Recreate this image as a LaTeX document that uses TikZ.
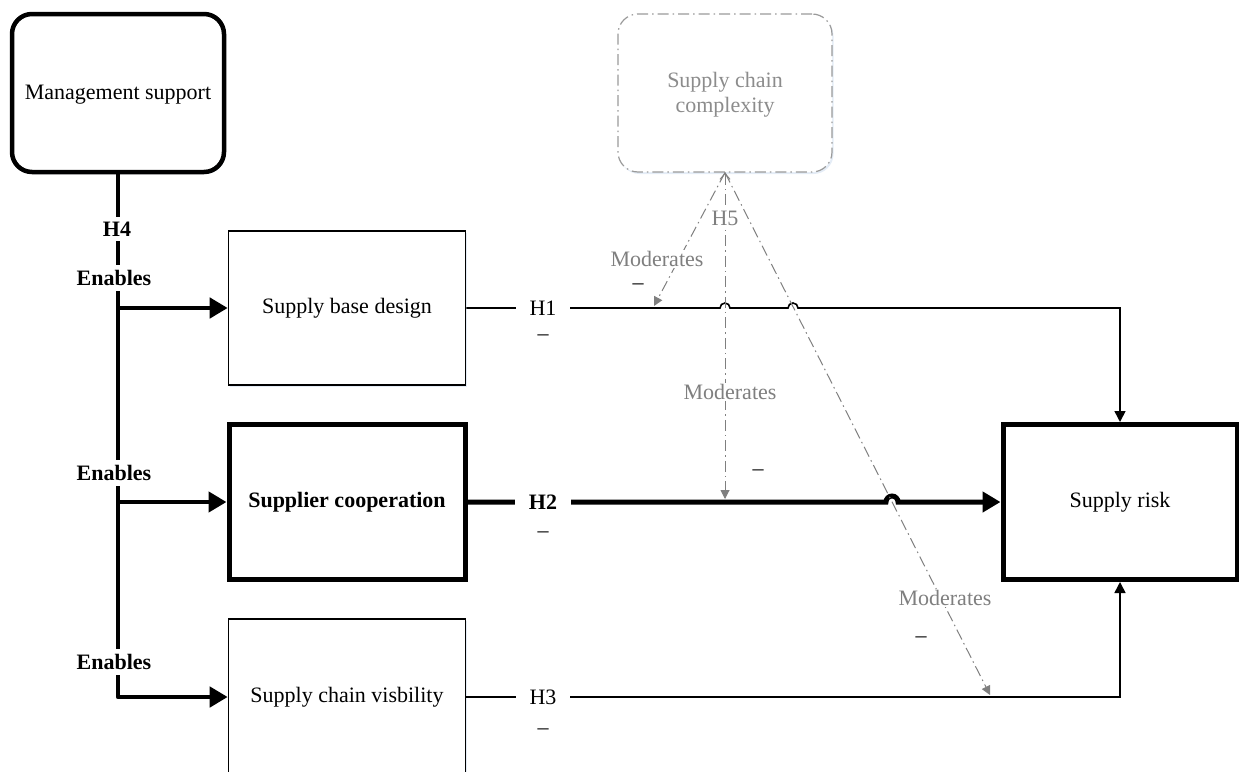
\documentclass[tikz,border=0pt]{standalone}
\usepackage{fontspec}
\setmainfont{Liberation Serif}
\usetikzlibrary{arrows.meta,shadows}
\definecolor{modgray}{HTML}{7F7F7F}
\definecolor{cxgray}{HTML}{8C8C8C}
\definecolor{cxline}{HTML}{9A9A9A}
\definecolor{shadowblue}{HTML}{E4ECF6}
\tikzset{
  txt/.style={font=\fontsize{22}{25}\selectfont},
  boxbase/.style={draw, txt, align=center, inner sep=0pt, fill=white,
    drop shadow={shadow xshift=1.5pt, shadow yshift=-2pt, fill=shadowblue, opacity=1}},
  thinbox/.style={boxbase, line width=1.6pt},
  heavybox/.style={boxbase, line width=5pt},
  roundbox/.style={boxbase, rounded corners=20pt},
  thinline/.style={line width=1.6pt},
  heavyline/.style={line width=5pt},
  enableline/.style={line width=4.8pt},
  bigtip/.style={-{Triangle[length=18pt,width=20pt]}},
  smalltip/.style={-{Triangle[length=11pt,width=11pt]}},
  modline/.style={draw=modgray, line width=1pt,
    dash pattern=on 11pt off 4pt on 1.5pt off 4pt,
    -{Triangle[length=9pt,width=9pt]}, modgray},
  lbl/.style={txt, fill=white, inner xsep=4pt, inner ysep=5pt},
  hlbl/.style={txt, fill=white, inner xsep=14pt, inner ysep=3pt},
  modlbl/.style={txt, text=modgray, fill=white, inner sep=1pt},
  minus/.style={txt, inner sep=0pt},
}
\begin{document}
\begin{tikzpicture}[x=1pt, y=-1pt]
\useasboundingbox (0,0) rectangle (1239,771);

% constructs
\node[roundbox, line width=4.5pt, minimum width=212pt, minimum height=158pt]
  (ms) at (118,93) {};
\node[txt] (mstxt) at (118,95) {Management support};

\node[roundbox, draw=cxline, line width=1.2pt,
  dash pattern=on 11pt off 4pt on 1.5pt off 4pt,
  minimum width=214pt, minimum height=158pt] (cx) at (725,93) {};
\node[txt, text=cxgray, align=center] (cxtxt) at (725,95) {Supply chain\\complexity};

\node[thinbox, minimum width=237pt, minimum height=154pt] (sbd) at (347,308) {Supply base design};
\node[heavybox, minimum width=236pt, minimum height=155pt, font=\fontsize{22}{25}\selectfont\bfseries]
  (sc) at (347,502) {Supplier cooperation};
\node[thinbox, minimum width=237pt, minimum height=156pt] (vis) at (347,697) {Supply chain visbility};
\node[heavybox, minimum width=234pt, minimum height=155pt] (risk) at (1120,502) {Supply risk};

% H4: management support enables the three practices
\draw[enableline] (ms.south) -- (ms.south |- vis.west);
\draw[enableline, bigtip] (ms.south |- sbd.west) -- (sbd.west);
\draw[enableline, bigtip] (ms.south |- sc.west) -- (sc.west);
\draw[enableline, bigtip, line join=round] (ms.south |- vis.north) -- (ms.south |- vis.west) -- (vis.west);
\node[lbl, font=\fontsize{22}{25}\selectfont\bfseries] (h4) at (117,229) {H4};
\node[lbl, font=\fontsize{22}{25}\selectfont\bfseries] (en1) at (114,278) {Enables};
\node[lbl, font=\fontsize{22}{25}\selectfont\bfseries] (en2) at (114,473) {Enables};
\node[lbl, font=\fontsize{22}{25}\selectfont\bfseries] (en3) at (114,662) {Enables};

% H1--H3: effects on supply risk
\draw[thinline, smalltip] (sbd.east) -- (720,308)
  arc[start angle=180, end angle=0, radius=5pt] -- (788,308)
  arc[start angle=180, end angle=0, radius=5pt] -- (risk.north |- sbd.east) -- (risk.north);
\draw[heavyline, bigtip] (sc.east) -- (886,502)
  arc[start angle=180, end angle=0, radius=6pt] -- (risk.west);
\draw[thinline, smalltip] (vis.east) -- (risk.south |- vis.east) -- (risk.south);

\node[hlbl] (h1) at (543,308) {H1};
\node[hlbl, font=\fontsize{22}{25}\selectfont\bfseries] (h2) at (543,502) {H2};
\node[hlbl] (h3) at (543,697) {H3};
\node[minus] (d1) at (543,338) {\textendash};
\node[minus] (d2) at (543,535) {\textendash};
\node[minus] (d3) at (543,732) {\textendash};

% H5: complexity moderates the three effects
\coordinate (m1) at (654,306);
\coordinate (m2) at (725,499);
\coordinate (m3) at (990,695);
\draw[modline] (cx.south) -- (m1);
\draw[modline, {Straight Barb[length=6pt,width=10pt]}-{Triangle[length=9pt,width=9pt]}] (cx.south) -- (m2);
\draw[modline] (cx.south) -- (m3);

\node[modlbl, inner ysep=4pt] (h5) at (725,218) {H5};
\node[modlbl] (mod1) at (657,259) {Moderates};
\node[modlbl] (mod2) at (730,392) {Moderates};
\node[modlbl] (mod3) at (945,598) {Moderates};
\node[minus] (d4) at (638,287) {\textendash};
\node[minus] (d5) at (758,473) {\textendash};
\node[minus] (d6) at (921,640) {\textendash};
\end{tikzpicture}
\end{document}
